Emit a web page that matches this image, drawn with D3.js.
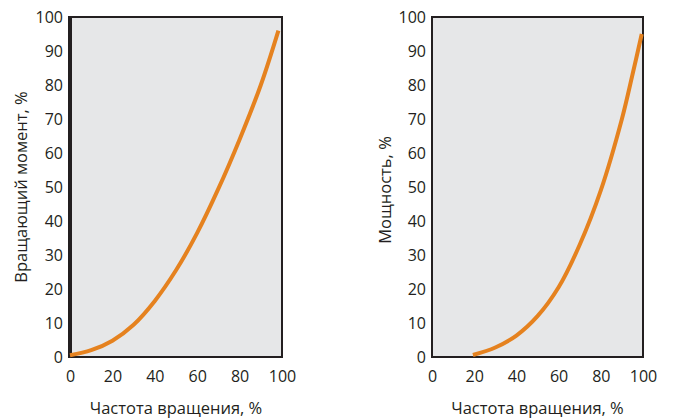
<!DOCTYPE html>
<html>
<head>
<meta charset="utf-8">
<script src="https://cdn.jsdelivr.net/npm/d3@7"></script>
<style>
  html, body { margin: 0; padding: 0; background: #ffffff; }
  svg { display: block; }
  text { font-family: "Open Sans", "Noto Sans", sans-serif; fill: #231f20; }
</style>
</head>
<body>
<svg id="chart" width="676" height="420"></svg>
<script>
// Speed in % of nominal
const torqueSpeed = [0, 10, 20, 30, 40, 50, 60, 70, 80, 90, 98.3];
// Torque in % of nominal
const torqueValue = [0.5, 2, 4.8, 9.5, 16.5, 25.5, 36.5, 49.5, 64, 80, 96];

const powerSpeed = [19.4, 30, 40, 50, 60, 70, 80, 90, 95, 99.4];
const powerValue = [0.6, 2.8, 6.3, 12, 20.5, 33, 49, 70, 83, 95];

const tickValues = [0, 10, 20, 30, 40, 50, 60, 70, 80, 90, 100];
const xTickValues = [0, 20, 40, 60, 80, 100];

const xTitle = "Частота вращения, %";
const yTitles = ["Вращающий момент, %", "Мощность, %"];

const svg = d3.select("#chart");
const curveColor = "#e5821f";
const ink = "#231f20";
const tickFont = 16;
const titleFont = 16.5;

const panels = [
  { x0: 70, x1: 282, yTitle: yTitles[0], yTitleX: 27, yTitleY: 187, xs: torqueSpeed, ys: torqueValue, leftW: 4 },
  { x0: 432, x1: 643, yTitle: yTitles[1], yTitleX: 391, yTitleY: 190, xs: powerSpeed, ys: powerValue, leftW: 2 }
];
const plotTop = 17, plotBottom = 357;

panels.forEach(p => {
  const x = d3.scaleLinear().domain([0, 100]).range([p.x0, p.x1]);
  const y = d3.scaleLinear().domain([0, 100]).range([plotBottom, plotTop]);
  const g = svg.append("g");

  // plot background
  g.append("rect")
    .attr("x", p.x0).attr("y", plotTop)
    .attr("width", p.x1 - p.x0).attr("height", plotBottom - plotTop)
    .attr("fill", "#e6e7e8");

  // frame
  g.append("line").attr("x1", p.x0).attr("x2", p.x1).attr("y1", plotTop).attr("y2", plotTop)
    .attr("stroke", ink).attr("stroke-width", 2);
  g.append("line").attr("x1", p.x1).attr("x2", p.x1).attr("y1", plotTop - 1).attr("y2", plotBottom + 1)
    .attr("stroke", ink).attr("stroke-width", 2);
  g.append("line").attr("x1", p.x0).attr("x2", p.x1 + 1).attr("y1", plotBottom).attr("y2", plotBottom)
    .attr("stroke", ink).attr("stroke-width", 2);
  g.append("line").attr("x1", p.x0).attr("x2", p.x0).attr("y1", plotTop - 1).attr("y2", plotBottom + 1)
    .attr("stroke", ink).attr("stroke-width", p.leftW);

  // y tick labels
  const yAxis = d3.axisLeft(y).tickValues(tickValues).tickSize(0).tickPadding(p.leftW > 2 ? 7 : 6);
  const ya = g.append("g").attr("transform", `translate(${p.x0},0)`).call(yAxis);
  ya.select(".domain").remove();
  ya.selectAll("text").attr("font-size", tickFont).attr("fill", ink)
    .style("font-family", "'Open Sans', 'Noto Sans', sans-serif");

  // x tick labels
  const xAxis = d3.axisBottom(x).tickValues(xTickValues).tickSize(0).tickPadding(14);
  const xa = g.append("g").attr("transform", `translate(0,${plotBottom})`).call(xAxis);
  xa.select(".domain").remove();
  xa.selectAll("text").attr("font-size", tickFont).attr("fill", ink)
    .style("font-family", "'Open Sans', 'Noto Sans', sans-serif");

  // axis titles
  g.append("text")
    .attr("x", (p.x0 + p.x1) / 2).attr("y", 414)
    .attr("text-anchor", "middle").attr("font-size", titleFont)
    .text(xTitle);
  g.append("text")
    .attr("transform", `translate(${p.yTitleX},${p.yTitleY}) rotate(-90)`)
    .attr("text-anchor", "middle").attr("font-size", titleFont)
    .text(p.yTitle);

  // curve
  const pts = p.xs.map((v, i) => [v, p.ys[i]]);
  const line = d3.line().x(d => x(d[0])).y(d => y(d[1])).curve(d3.curveCatmullRom.alpha(0.5));
  g.append("path").datum(pts)
    .attr("d", line)
    .attr("fill", "none")
    .attr("stroke", curveColor)
    .attr("stroke-width", 4)
    .attr("stroke-linecap", "butt");
});
</script>
</body>
</html>
